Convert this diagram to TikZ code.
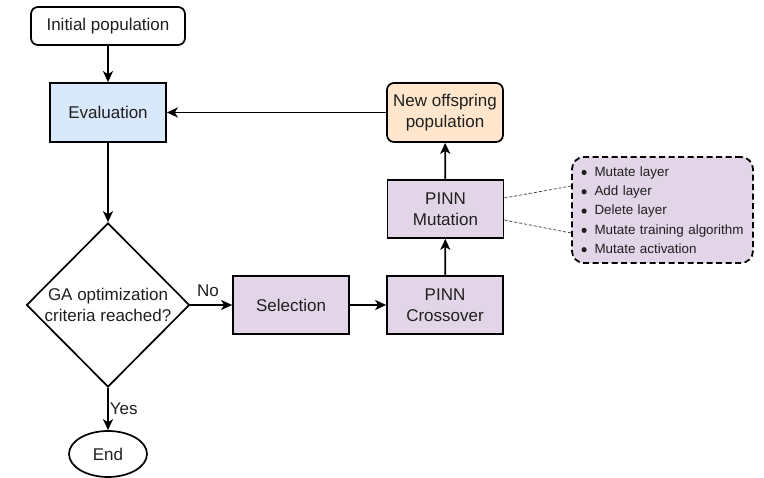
\documentclass[tikz,border=0pt]{standalone}
\usepackage{fontspec}
\setmainfont{Liberation Sans}
\usetikzlibrary{shapes.geometric,arrows.meta,calc}

\definecolor{inkgray}{HTML}{1F1F1F}
\definecolor{evalblue}{HTML}{DAE8FC}
\definecolor{offpeach}{HTML}{FFE6CC}
\definecolor{opviolet}{HTML}{E1D5E7}

% filled round bullet for the operator list
\newcommand{\opbullet}{\makebox[13pt][l]{\tikz[baseline=0pt]\fill[inkgray] (2.6pt,3.7pt) circle[radius=2.6pt];}}

\begin{document}
\begin{tikzpicture}[x=1pt,y=-1pt,
  every node/.style={text=inkgray, font=\fontsize{17}{21}\selectfont},
  block/.style={draw=black, line width=1.7pt, rectangle, minimum width=116pt, minimum height=58pt, align=center, inner sep=2pt},
  roundblock/.style={block, rounded corners=7pt},
  flow/.style={line width=1.7pt, -{Stealth[length=11pt,width=10pt,inset=3pt]}},
  hint/.style={line width=0.7pt, dash pattern=on 3pt off 2pt, draw=black!80}
]
\useasboundingbox (0,0) rectangle (764,478);

% main flow blocks
\node[roundblock, minimum width=154pt, minimum height=38pt] (init) at (108,26) {Initial population};
\node[block, fill=evalblue, minimum height=59pt] (eval) at (108,112.5) {Evaluation};
\node[diamond, draw=black, line width=1.7pt, minimum width=163pt, minimum height=164pt, inner sep=0pt,
      label={[align=center, font=\fontsize{17}{21}\selectfont]center:GA optimization\\criteria reached?}] (crit) at (108,305) {};
\node[block, fill=opviolet] (sel) at (291,305) {Selection};
\node[block, fill=opviolet] (cross) at (445,305) {PINN\\Crossover};
\node[block, fill=opviolet] (mut) at (445.5,209) {PINN\\Mutation};
\node[roundblock, fill=offpeach, minimum height=59pt] (off) at (445,112.5) {New offspring\\population};
\node[ellipse, draw=black, line width=1.7pt, minimum width=78pt, minimum height=46pt, inner sep=0pt] (fin) at (108,454) {End};

% list of mutation operators
\node[draw=black, line width=1.8pt, dash pattern=on 6pt off 3.5pt, rounded corners=12pt, fill=opviolet,
      minimum width=181pt, minimum height=106pt, text width=162pt, inner xsep=9.5pt, align=left,
      font=\fontsize{13.4}{19.3}\selectfont] (ops) at (662.5,210)
  {\opbullet Mutate layer\\
   \opbullet Add layer\\
   \opbullet Delete layer\\
   \opbullet Mutate training algorithm\\
   \opbullet Mutate activation};

% connectors
\draw[flow] (init) -- (eval);
\draw[flow] (eval) -- (crit.north);
\draw[flow] (off) -- (eval);
\draw[flow] (crit.east) -- node[pos=0.42, above, inner sep=7pt] {No} (sel);
\draw[flow] (sel) -- (cross);
\draw[flow] (cross) -- (mut);
\draw[flow] (mut) -- (off);
\draw[flow] (crit.south) -- node[right, inner sep=1pt] {Yes} (fin);

% dotted hints to the operator list
\draw[hint] ($(mut.east)+(0,-11)$) -- ($(ops.west)+(0,-24)$);
\draw[hint] ($(mut.east)+(0,11)$) -- ($(ops.west)+(0,23)$);
\end{tikzpicture}
\end{document}
